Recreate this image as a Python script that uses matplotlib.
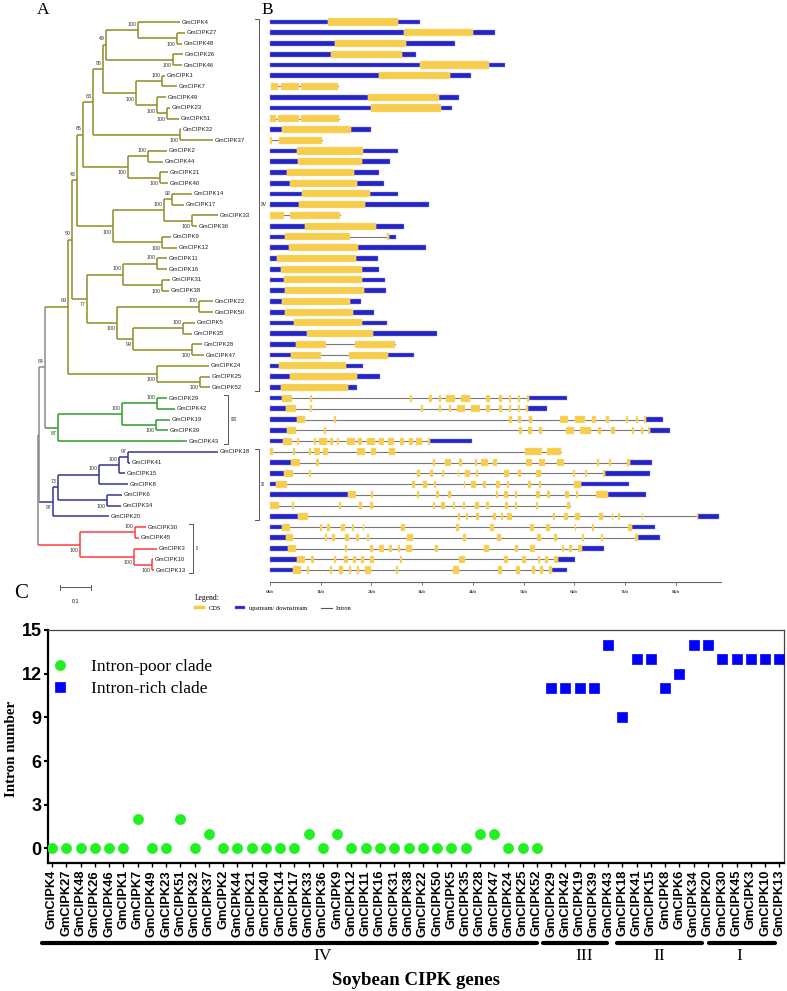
import matplotlib
matplotlib.use('Agg')
import matplotlib.pyplot as plt
import matplotlib.transforms as mtransforms
from matplotlib.lines import Line2D
from matplotlib.patches import Patch
import numpy as np

SERIF = 'Liberation Serif'
SANS = 'Liberation Sans'

# gene order (as in the tree) and intron numbers, per clade
genes_IV = ['GmCIPK4', 'GmCIPK27', 'GmCIPK48', 'GmCIPK26', 'GmCIPK46', 'GmCIPK1', 'GmCIPK7',
            'GmCIPK49', 'GmCIPK23', 'GmCIPK51', 'GmCIPK32', 'GmCIPK37', 'GmCIPK2', 'GmCIPK44',
            'GmCIPK21', 'GmCIPK40', 'GmCIPK14', 'GmCIPK17', 'GmCIPK33', 'GmCIPK36', 'GmCIPK9',
            'GmCIPK12', 'GmCIPK11', 'GmCIPK16', 'GmCIPK31', 'GmCIPK38', 'GmCIPK22', 'GmCIPK50',
            'GmCIPK5', 'GmCIPK35', 'GmCIPK28', 'GmCIPK47', 'GmCIPK24', 'GmCIPK25', 'GmCIPK52']
genes_III = ['GmCIPK29', 'GmCIPK42', 'GmCIPK19', 'GmCIPK39', 'GmCIPK43']
genes_II = ['GmCIPK18', 'GmCIPK41', 'GmCIPK15', 'GmCIPK8', 'GmCIPK6', 'GmCIPK34', 'GmCIPK20']
genes_I = ['GmCIPK30', 'GmCIPK45', 'GmCIPK3', 'GmCIPK10', 'GmCIPK13']

introns_IV = [0, 0, 0, 0, 0, 0, 2, 0, 0, 2, 0, 1, 0, 0, 0, 0, 0, 0, 1, 0, 1,
              0, 0, 0, 0, 0, 0, 0, 0, 0, 1, 1, 0, 0, 0]
introns_III = [11, 11, 11, 11, 14]
introns_II = [9, 13, 13, 11, 12, 14, 14]
introns_I = [13, 13, 13, 13, 13]

# panel A tree: internal node = (depth, bootstrap, children), leaf = (name, depth)
clade_IV = (0.097, 99, [
    (0.110, 50, [
        (0.126, 43, [
            (0.145, 65, [
                (0.177, 83, [
                    (0.210, 95, [
                        (0.219, 49, [
                            (0.323, 100, [('GmCIPK4', 0.458),
                                          (0.448, 100, [('GmCIPK27', 0.474), ('GmCIPK48', 0.465)])]),
                            (0.435, 100, [('GmCIPK26', 0.468), ('GmCIPK46', 0.465)])]),
                        (0.316, 100, [
                            (0.400, 100, [('GmCIPK1', 0.410), ('GmCIPK7', 0.448)]),
                            (0.384, 100, [('GmCIPK49', 0.413),
                                          (0.416, 100, [('GmCIPK23', 0.426), ('GmCIPK51', 0.455)])])])]),
                    (0.458, 100, [('GmCIPK32', 0.461), ('GmCIPK37', 0.565)])]),
                (0.290, 100, [
                    (0.355, 100, [('GmCIPK2', 0.416), ('GmCIPK44', 0.403)]),
                    (0.394, 100, [('GmCIPK21', 0.419), ('GmCIPK40', 0.419)])])]),
            (0.242, 100, [
                (0.406, 100, [
                    (0.432, 92, [('GmCIPK14', 0.497), ('GmCIPK17', 0.471)]),
                    (0.497, 100, [('GmCIPK33', 0.581), ('GmCIPK36', 0.513)])]),
                (0.400, 100, [('GmCIPK9', 0.429), ('GmCIPK12', 0.448)])])]),
        (0.158, 77, [
            (0.274, 100, [
                (0.384, 100, [('GmCIPK11', 0.416), ('GmCIPK16', 0.416)]),
                (0.400, 100, [('GmCIPK31', 0.426), ('GmCIPK38', 0.423)])]),
            (0.255, 100, [
                (0.519, 100, [('GmCIPK22', 0.565), ('GmCIPK50', 0.565)]),
                (0.306, 99, [
                    (0.468, 100, [('GmCIPK5', 0.506), ('GmCIPK35', 0.497)]),
                    (0.497, 100, [('GmCIPK28', 0.529), ('GmCIPK47', 0.535)])])])])]),
    (0.384, 100, [('GmCIPK24', 0.552),
                  (0.523, 100, [('GmCIPK25', 0.555), ('GmCIPK52', 0.555)])])])

clade_III = (0.065, 87, [
    (0.271, 100, [
        (0.384, 100, [('GmCIPK29', 0.416), ('GmCIPK42', 0.442)]),
        (0.381, 100, [('GmCIPK19', 0.426), ('GmCIPK39', 0.419)])]),
    ('GmCIPK43', 0.481)])

clade_II = (0.048, 97, [
    (0.065, 73, [
        (0.197, 100, [
            (0.261, 100, [
                (0.290, 97, [('GmCIPK18', 0.581), ('GmCIPK41', 0.297)]),
                ('GmCIPK15', 0.281)]),
            ('GmCIPK8', 0.290)]),
        (0.223, 100, [('GmCIPK6', 0.271), ('GmCIPK34', 0.268)])]),
    ('GmCIPK20', 0.229)])

clade_I = (0.135, 100, [
    (0.313, 100, [('GmCIPK30', 0.348), ('GmCIPK45', 0.326)]),
    (0.310, 100, [('GmCIPK3', 0.384),
                  (0.368, 100, [('GmCIPK10', 0.371), ('GmCIPK13', 0.374)])])])

tree = (0.0, None, [
    (0.003, None, [(0.023, 84, [clade_IV, clade_III]), clade_II]),
    clade_I])

# panel B gene structures (kb): (5' UTR end, CDS exons, 3' end)
struct_IV = [
    (1.15, [(1.15, 2.53)], 2.95), (2.64, [(2.64, 4.01)], 4.43), (1.28, [(1.28, 2.68)], 3.64),
    (1.20, [(1.20, 2.60)], 2.88), (2.96, [(2.96, 4.32)], 4.64), (2.15, [(2.15, 3.55)], 3.96),
    (0.0, [(0.02, 0.15), (0.22, 0.57), (0.62, 1.35)], 1.35),
    (1.94, [(1.94, 3.34)], 3.72), (1.99, [(1.99, 3.38)], 3.59),
    (0.0, [(0.0, 0.11), (0.15, 0.57), (0.62, 1.37)], 1.37),
    (0.23, [(0.23, 1.59)], 1.99), (0.0, [(0.0, 0.03), (0.18, 1.03)], 1.03),
    (0.54, [(0.54, 1.84)], 2.53), (0.56, [(0.56, 1.82)], 2.36), (0.34, [(0.34, 1.66)], 2.15),
    (0.39, [(0.39, 1.71)], 2.24), (0.64, [(0.64, 1.97)], 2.53), (0.58, [(0.58, 1.88)], 3.14),
    (0.0, [(0.0, 0.28), (0.39, 1.38)], 1.38), (0.69, [(0.69, 2.09)], 2.64),
    (0.30, [(0.30, 1.57), (2.30, 2.34)], 2.48), (0.38, [(0.38, 1.74)], 3.07),
    (0.14, [(0.14, 1.70)], 2.13), (0.22, [(0.22, 1.81)], 2.15), (0.28, [(0.28, 1.82)], 2.27),
    (0.30, [(0.30, 1.85)], 2.29), (0.24, [(0.24, 1.57)], 1.80), (0.30, [(0.30, 1.63)], 2.06),
    (0.47, [(0.47, 1.81)], 2.30), (0.72, [(0.72, 2.04)], 3.29),
    (0.51, [(0.51, 1.10), (1.68, 2.46)], 2.46), (0.41, [(0.41, 1.00), (1.56, 2.32)], 2.84),
    (0.18, [(0.18, 1.49)], 1.84), (0.39, [(0.39, 1.71)], 2.17), (0.21, [(0.21, 1.53)], 1.72)]

struct_III = [
    (0.24, [(0.24, 0.44), (0.78, 0.82), (2.77, 2.81), (3.13, 3.19), (3.33, 3.38), (3.47, 3.65),
            (3.76, 3.95), (4.27, 4.33), (4.52, 4.57), (4.72, 4.76), (4.89, 4.93), (5.06, 5.10)], 5.85),
    (0.31, [(0.31, 0.51), (0.79, 0.82), (2.98, 3.02), (3.33, 3.38), (3.53, 3.57), (3.68, 3.85),
            (3.97, 4.15), (4.27, 4.33), (4.51, 4.57), (4.71, 4.75), (4.89, 4.93), (5.05, 5.08)], 5.46),
    (0.53, [(0.53, 0.70), (1.26, 1.31), (4.72, 4.77), (4.90, 4.96), (5.11, 5.16), (5.72, 5.88),
            (6.01, 6.22), (6.36, 6.42), (6.62, 6.69), (7.03, 7.07), (7.21, 7.25), (7.37, 7.42)], 7.76),
    (0.33, [(0.33, 0.51), (1.06, 1.10), (4.92, 4.97), (5.09, 5.17), (5.31, 5.36), (5.83, 6.00),
            (6.12, 6.33), (6.47, 6.53), (6.72, 6.80), (7.14, 7.18), (7.32, 7.36), (7.46, 7.50)], 7.89),
    (0.26, [(0.26, 0.44), (0.54, 0.58), (0.86, 0.90), (0.97, 1.12), (1.19, 1.24), (1.32, 1.37),
            (1.51, 1.68), (1.74, 1.82), (1.91, 2.07), (2.14, 2.24), (2.33, 2.45), (2.56, 2.64),
            (2.74, 2.82), (2.88, 2.99), (3.12, 3.16)], 3.98)]

struct_II = [
    (0.0, [(0.0, 0.05), (0.45, 0.49), (0.77, 0.81), (0.86, 0.99), (1.05, 1.15), (1.72, 1.88),
           (1.99, 2.09), (2.35, 2.47), (5.02, 5.36), (5.46, 5.74)], 5.74),
    (0.41, [(0.41, 0.59), (0.91, 0.96), (3.22, 3.26), (3.45, 3.57), (3.73, 3.78), (4.04, 4.08),
            (4.17, 4.30), (4.40, 4.47), (5.05, 5.17), (5.30, 5.42), (5.67, 5.80), (6.45, 6.49),
            (6.69, 6.73), (7.04, 7.10)], 7.53),
    (0.28, [(0.28, 0.46), (0.77, 0.81), (2.90, 2.95), (3.15, 3.22), (3.39, 3.43), (3.70, 3.73),
            (3.85, 3.94), (4.06, 4.11), (4.62, 4.71), (4.89, 4.96), (5.24, 5.34), (5.98, 6.02),
            (6.21, 6.25), (6.56, 6.61)], 7.50),
    (0.11, [(0.11, 0.34), (2.81, 2.85), (3.02, 3.09), (3.23, 3.27), (3.82, 3.85), (3.97, 4.07),
            (4.21, 4.27), (4.45, 4.53), (4.67, 4.72), (5.08, 5.14), (5.31, 5.35), (5.99, 6.14)], 7.09),
    (1.53, [(1.53, 1.70), (2.00, 2.04), (2.89, 2.93), (3.27, 3.34), (3.52, 3.56), (4.46, 4.49),
            (4.62, 4.69), (4.83, 4.88), (5.25, 5.32), (5.46, 5.53), (5.82, 5.89), (6.04, 6.07),
            (6.43, 6.66)], 7.42),
    (0.0, [(0.0, 0.17), (0.44, 0.48), (1.36, 1.40), (1.75, 1.82), (1.98, 2.03), (3.21, 3.25),
           (3.38, 3.46), (3.60, 3.64), (3.81, 3.85), (4.04, 4.12), (4.26, 4.31), (4.63, 4.70),
           (4.83, 4.87), (5.24, 5.29), (5.86, 5.91)], 5.91),
    (0.56, [(0.56, 0.74), (3.71, 3.75), (3.87, 3.91), (4.06, 4.13), (4.40, 4.45), (4.55, 4.59),
            (4.68, 4.78), (5.58, 5.63), (5.80, 5.87), (6.02, 6.12), (6.48, 6.56), (6.74, 6.77),
            (6.87, 6.91), (7.33, 7.36), (8.43, 8.45)], 8.85)]

struct_I = [
    (0.24, [(0.24, 0.39), (0.99, 1.03), (1.13, 1.18), (1.40, 1.47), (1.61, 1.65), (1.83, 1.86),
            (2.58, 2.66), (3.67, 3.72), (4.33, 4.41), (5.12, 5.20), (5.45, 5.53), (6.01, 6.04),
            (6.36, 6.39), (7.07, 7.14)], 7.60),
    (0.31, [(0.31, 0.46), (1.08, 1.12), (1.23, 1.28), (1.48, 1.55), (1.70, 1.75), (1.92, 1.96),
            (2.70, 2.82), (3.81, 3.86), (4.47, 4.55), (5.27, 5.34), (5.60, 5.67), (6.16, 6.20),
            (6.52, 6.56), (7.19, 7.26)], 7.70),
    (0.35, [(0.35, 0.51), (1.47, 1.52), (1.98, 2.03), (2.14, 2.24), (2.34, 2.40), (2.53, 2.57),
            (2.68, 2.80), (3.25, 3.32), (4.23, 4.31), (4.83, 4.90), (5.13, 5.22), (5.75, 5.79),
            (5.90, 5.95), (6.07, 6.15)], 6.58),
    (0.54, [(0.54, 0.69), (0.81, 0.86), (1.26, 1.31), (1.46, 1.53), (1.64, 1.69), (1.80, 1.85),
            (1.98, 2.06), (2.56, 2.61), (3.72, 3.84), (4.61, 4.69), (4.98, 5.05), (5.29, 5.33),
            (5.43, 5.48), (5.60, 5.68)], 6.01),
    (0.46, [(0.46, 0.61), (0.72, 0.77), (1.18, 1.23), (1.37, 1.43), (1.55, 1.60), (1.71, 1.75),
            (1.88, 1.99), (2.48, 2.52), (3.60, 3.72), (4.49, 4.58), (4.86, 4.94), (5.17, 5.22),
            (5.32, 5.38), (5.50, 5.56)], 5.86)]

kb_ticks = list(range(9))
clade_names = ['IV', 'III', 'II', 'I']

# colours
c_IV, c_III, c_II, c_I, c_root = '#8d8d25', '#2f9c2f', '#343490', '#ff3c3c', '#8a8a8a'
c_cds, c_utr, c_intron = '#f6cd4c', '#2525c6', '#777777'

fig = plt.figure(figsize=(7.87, 9.91), dpi=100)

# ---------- A: tree ----------
axa = fig.add_axes([0, 381 / 991, 265 / 787, 610 / 991])
axa.set_xlim(-0.1226, 0.7323)
axa.set_ylim(54.72, -2.05)
axa.axis('off')

clade_col = {id(clade_IV): c_IV, id(clade_III): c_III, id(clade_II): c_II, id(clade_I): c_I}
leaf_counter = [0]


def draw(node, color, side):
    if isinstance(node[0], str):
        name, x = node
        y = leaf_counter[0]
        leaf_counter[0] += 1
        axa.text(x + 0.006, y, name, fontsize=4.3, family=SANS, color='#222222',
                 ha='left', va='center')
        return x, y
    x, sup, kids = node
    ys = []
    for i, k in enumerate(kids):
        kc = clade_col.get(id(k), color)
        kx, ky = draw(k, kc, 'above' if i == 0 else 'below')
        axa.plot([x, kx], [ky, ky], color=kc, lw=1.1, solid_capstyle='butt')
        ys.append(ky)
    axa.plot([x, x], [ys[0], ys[-1]], color=color, lw=1.1, solid_capstyle='butt')
    y = (ys[0] + ys[-1]) / 2
    if sup is not None:
        dy = -0.55 if side == 'above' else 0.55
        axa.text(x - 0.004, y + dy, str(sup), fontsize=3.8, family=SANS, color='#333333',
                 ha='right', va='center')
    return x, y


draw(tree, c_root, 'above')

# clade brackets
groups = [genes_IV, genes_III, genes_II, genes_I]
bracket_x = [0.712, 0.613, 0.712, 0.50]
start = 0
for name, g, bx in zip(clade_names, groups, bracket_x):
    y0, y1 = start - 0.3, start + len(g) - 1 + 0.3
    axa.plot([bx - 0.012, bx, bx, bx - 0.012], [y0, y0, y1, y1], color='#555555', lw=0.7,
             clip_on=False)
    axa.text(bx + 0.008, (y0 + y1) / 2, name, fontsize=4.5, family=SERIF, ha='left',
             va='center', clip_on=False)
    start += len(g)

# scale bar
axa.plot([0.071, 0.171], [52.6, 52.6], color='#555555', lw=0.7)
axa.plot([0.071, 0.071], [52.35, 52.85], color='#555555', lw=0.7)
axa.plot([0.171, 0.171], [52.35, 52.85], color='#555555', lw=0.7)
axa.text(0.121, 53.9, '0.1', fontsize=3.8, family=SANS, ha='center', va='center')

# ---------- B: gene structures ----------
axb = fig.add_axes([255 / 787, 381 / 991, 532 / 787, 610 / 991])
axb.set_xlim(-0.296, 10.197)
axb.set_ylim(54.72, -2.05)
axb.axis('off')

structs = struct_IV + struct_III + struct_II + struct_I
for i, (u5, exons, end) in enumerate(structs):
    axb.plot([exons[0][0] if u5 == 0 else 0, exons[-1][1]], [i, i], color=c_intron, lw=0.8,
             zorder=1)
    utr = []
    if u5 > 0:
        utr.append((0, u5))
    if end > exons[-1][1]:
        utr.append((exons[-1][1], end - exons[-1][1]))
    axb.broken_barh(utr, (i - 0.22, 0.44), facecolor=c_utr, edgecolor='#8c8cec', lw=0.3,
                    zorder=2)
    axb.broken_barh([(a, b - a) for a, b in exons], (i - 0.33, 0.66), facecolor=c_cds,
                    edgecolor='#f9df8e', lw=0.3, zorder=3)

y_axis = 52.1
axb.plot([0, 8.9], [y_axis, y_axis], color='#666666', lw=0.8)
for k in kb_ticks:
    axb.plot([k, k], [y_axis, y_axis + 0.3], color='#666666', lw=0.6)
    axb.text(k, y_axis + 0.95, '%dkb' % k, fontsize=3.8, family=SERIF, ha='center', va='center')

fig.legend([Patch(facecolor=c_cds, edgecolor='#e9c040', lw=0.3),
            Patch(facecolor=c_utr, edgecolor='#8c8cec', lw=0.3),
            Line2D([], [], color='#555555', lw=0.8)],
           ['CDS', 'upstream/ downstream', 'Intron'],
           title='Legend:', loc='upper left', bbox_to_anchor=(190 / 787, 1 - 590 / 991),
           ncol=3, frameon=False, alignment='left', handlelength=1.6, handleheight=0.5,
           handletextpad=0.6, columnspacing=2.2, borderpad=0.2,
           prop={'family': SERIF, 'size': 4.6},
           title_fontproperties={'family': SERIF, 'size': 5.5})

# ---------- C: intron numbers ----------
axc = fig.add_axes([48 / 787, 128 / 991, 736 / 787, 233 / 991])
genes = genes_IV + genes_III + genes_II + genes_I
poor = introns_IV
rich = introns_III + introns_II + introns_I
x = np.arange(len(genes))
axc.plot(x[:len(poor)], poor, 'o', color='#22f022', ms=7.3, mec='#22f022', mew=0.5,
         label='Intron-poor clade', zorder=3)
axc.plot(x[len(poor):], rich, 's', color='#0000ff', ms=6.5, mec='#0000ff', mew=0.5,
         label='Intron-rich clade', zorder=3)
axc.set_xlim(-0.28, 51.33)
axc.set_ylim(-1, 15)
axc.set_yticks([0, 3, 6, 9, 12, 15])
axc.set_xticks(x)
axc.set_xticklabels(genes, rotation=90, fontsize=9.3, family=SANS, fontweight='bold')
for t in axc.get_yticklabels():
    t.set_family(SANS)
    t.set_fontweight('bold')
    t.set_fontsize(13)
axc.tick_params(axis='y', length=3, width=1.5, pad=1.5)
axc.tick_params(axis='x', length=3, width=1, pad=2)
for s in ['left', 'bottom']:
    axc.spines[s].set_linewidth(1.6)
    axc.spines[s].set_color('black')
for s in ['top', 'right']:
    axc.spines[s].set_linewidth(0.9)
    axc.spines[s].set_color('#444444')
axc.set_ylabel('Intron number', family=SERIF, fontweight='bold', fontsize=10.8)
axc.yaxis.set_label_coords(-0.041, 0.49)

leg = axc.legend(loc='upper left', bbox_to_anchor=(-0.005, 0.905), frameon=False,
                 handlelength=1.0, handletextpad=1.3, labelspacing=0.35, borderaxespad=0,
                 prop={'family': SERIF, 'size': 12.5})

# clade bars below the gene names
trans = mtransforms.blended_transform_factory(axc.transData, axc.transAxes)
bar_ranges = [(-0.7, 34.0), (34.4, 38.9), (39.6, 45.6), (46.1, 50.7)]
label_x = [19.0, 37.3, 42.6, 48.2]
for name, (a, b), lx in zip(clade_names, bar_ranges, label_x):
    axc.plot([a, b], [-0.343, -0.343], color='black', lw=3, solid_capstyle='round',
             transform=trans, clip_on=False)
    axc.text(lx, -0.397, name, transform=trans, fontsize=12.5, family=SERIF,
             ha='center', va='center')
axc.text(0.5, -0.505, 'Soybean CIPK genes', transform=axc.transAxes, fontsize=13.5,
         family=SERIF, fontweight='bold', ha='center', va='center')

# panel letters
fig.text(43 / 787, 1 - 10 / 991, 'A', fontsize=12.5, family=SERIF, ha='center', va='center')
fig.text(267 / 787, 1 - 10 / 991, 'B', fontsize=12.5, family=SERIF, ha='center', va='center')
fig.text(21 / 787, 1 - 593 / 991, 'C', fontsize=15, family=SERIF, ha='center', va='center')

fig.savefig('out.png', dpi=100)
